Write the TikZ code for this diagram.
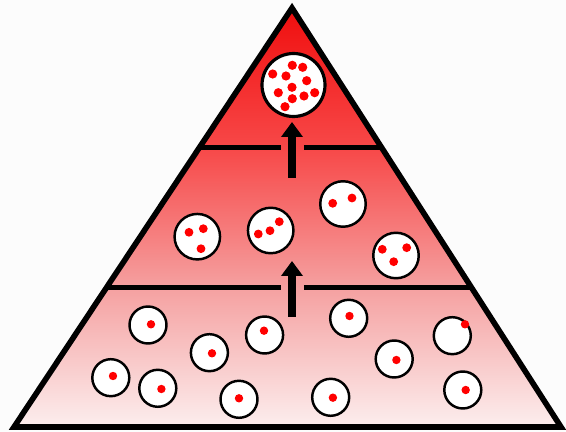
\documentclass[tikz,border=0pt]{standalone}
\usepackage{xcolor}
\usepackage{tikz}
\usetikzlibrary{arrows.meta,calc}
\definecolor{paper}{RGB}{252,252,252}
\definecolor{pyrbase}{RGB}{252,238,238}
\definecolor{pyrlow}{RGB}{245,160,160}
\definecolor{pyrmid}{RGB}{247,72,72}
\definecolor{pyrtop}{RGB}{240,14,14}
\pgfdeclareverticalshading{pyramid}{100bp}{color(0bp)=(pyrbase); color(25bp)=(pyrbase);
  color(41.7bp)=(pyrlow); color(58.3bp)=(pyrmid); color(75bp)=(pyrtop); color(100bp)=(pyrtop)}

\begin{document}
\begin{tikzpicture}[x=0.02cm,y=-0.02cm,
  onecell/.style={draw,circle,fill=white,line width=1.4pt,inner sep=0pt,minimum size=0.74cm},
  fewcell/.style={onecell,minimum size=0.91cm},
  bigcell/.style={onecell,line width=1.8pt,minimum size=1.26cm},
  redspot/.style={fill=red},
  tier/.style={line width=2.8pt},
  rise/.style={-{Triangle[width=0.42cm,length=0.3cm]},line width=4.6pt}]
  \path[use as bounding box,fill=paper] (0,0) rectangle (566,432);
  % pyramid corners, tiers cut at thirds of the height
  \coordinate (apex) at (292,8);
  \coordinate (bl) at (14,427);
  \coordinate (br) at (561,427);
  \coordinate (ul) at ($(bl)!2/3!(apex)$);
  \coordinate (ur) at ($(br)!2/3!(apex)$);
  \coordinate (ll) at ($(bl)!1/3!(apex)$);
  \coordinate (lr) at ($(br)!1/3!(apex)$);
  \coordinate (gapl) at (281,0);
  \coordinate (gapr) at (304,0);
  \shade[shading=pyramid] (apex) -- (bl) -- (br) -- cycle;
  \draw[tier] (ul) -- (ul -| gapl);
  \draw[tier] (ul -| gapr) -- (ur);
  \draw[tier] (ll) -- (ll -| gapl);
  \draw[tier] (ll -| gapr) -- (lr);
  % arrows between the tiers
  \coordinate (r1s) at (292,178);
  \coordinate (r1e) at (292,122);
  \coordinate (r2s) at (292,317);
  \coordinate (r2e) at (292,261);
  \draw[rise] (r1s) -- (r1e);
  \draw[rise] (r2s) -- (r2e);
  % top tier
  \node[bigcell] (top) at (293.5,85) {};
  \fill[redspot] (272.7,74) circle[radius=4.6] (292.3,65.3) circle[radius=4.6]
    (302.7,67.3) circle[radius=4.6] (286,76) circle[radius=4.6] (306.7,80.7) circle[radius=4.6]
    (278.3,92.7) circle[radius=4.6] (292,87.3) circle[radius=4.6] (314.7,92.7) circle[radius=4.6]
    (304,96) circle[radius=4.6] (292.3,98.7) circle[radius=4.6] (285,106.7) circle[radius=4.6];
  % middle tier
  \node[fewcell] (m1) at (197.3,236.7) {};
  \node[fewcell] (m2) at (270.7,230.5) {};
  \node[fewcell] (m3) at (343,204) {};
  \node[fewcell] (m4) at (396,255.5) {};
  \fill[redspot] (189,232.3) circle[radius=4.4] (203.3,228.7) circle[radius=4.4] (201,248.7) circle[radius=4.4];
  \fill[redspot] (258.3,234) circle[radius=4.4] (270,230.7) circle[radius=4.4] (279.3,221.7) circle[radius=4.4];
  \fill[redspot] (332.7,203.3) circle[radius=4.4] (352,198) circle[radius=4.4];
  \fill[redspot] (382.3,249.3) circle[radius=4.4] (406.7,247.7) circle[radius=4.4] (393.7,261.7) circle[radius=4.4];
  % bottom tier
  \node[onecell] (b1) at (148,325) {};
  \node[onecell] (b2) at (110.8,377.7) {};
  \node[onecell] (b3) at (157.8,388.3) {};
  \node[onecell] (b4) at (209.4,352.7) {};
  \node[onecell] (b5) at (264.6,335) {};
  \node[onecell] (b6) at (239,399.3) {};
  \node[onecell] (b7) at (348.7,318.3) {};
  \node[onecell] (b8) at (330.7,397.3) {};
  \node[onecell] (b9) at (394.2,359) {};
  \node[onecell] (b10) at (452.3,335.7) {};
  \node[onecell] (b11) at (462.8,390) {};
  \fill[redspot] (151,324.3) circle[radius=4.2] (113,376) circle[radius=4.2]
    (161.4,389) circle[radius=4.2] (212,353.3) circle[radius=4.2] (264,330.7) circle[radius=4.2]
    (239,398.3) circle[radius=4.2] (349.5,316) circle[radius=4.2] (332.9,397.7) circle[radius=4.2]
    (396.4,360) circle[radius=4.2] (465,324.3) circle[radius=4.2] (465.7,390) circle[radius=4.2];
  \draw[line width=3.2pt,line join=miter] (apex) -- (bl) -- (br) -- cycle;
\end{tikzpicture}
\end{document}
